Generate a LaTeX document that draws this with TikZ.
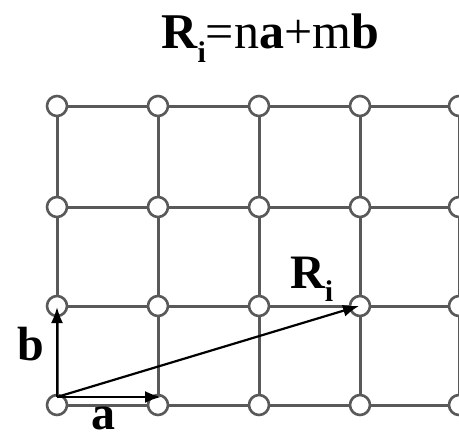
\documentclass[tikz,border=0pt]{standalone}
\usepackage{fontspec}
\setmainfont{Liberation Serif}
\usetikzlibrary{arrows.meta,backgrounds}
\tikzset{
  site/.style={circle,draw=gray!70!black,line width=2.6pt,fill=white,minimum size=20pt,inner sep=0pt},
  bond/.style={draw=gray!70!black,line width=3pt},
  vec/.style={draw=black,line width=2.2pt,-{Latex[length=16pt,width=12pt]}},
  lbl/.style={inner sep=0pt,font=\fontsize{48}{52}\selectfont\bfseries}
}
\newcommand{\subi}{\raisebox{-0.28em}{\fontsize{30}{32}\selectfont\bfseries i}}
\begin{document}
\begin{tikzpicture}[x=1pt,y=-1pt]
\useasboundingbox (0,0) rectangle (459,440);
\foreach \c/\x in {1/57,2/158,3/259,4/360,5/459}{
  \foreach \r/\y in {1/106,2/207,3/306,4/405}{
    \node[site] (n\c\r) at (\x,\y) {};
  }
}
\begin{scope}[on background layer]
\foreach \c in {1,...,5}{
  \draw[bond] (n\c1) -- (n\c2);
  \draw[bond] (n\c2) -- (n\c3);
  \draw[bond] (n\c3) -- (n\c4);
}
\foreach \r in {1,...,4}{
  \draw[bond] (n1\r) -- (n2\r);
  \draw[bond] (n2\r) -- (n3\r);
  \draw[bond] (n3\r) -- (n4\r);
  \draw[bond] (n4\r) -- (n5\r);
}
\end{scope}
\coordinate (O) at (57,397);
\coordinate (A) at (161,397);
\coordinate (B) at (57,307);
\coordinate (R) at (359,306);
\draw[vec] (O) -- (A);
\draw[vec] (O) -- (B);
\draw[vec] (O) -- (R);
\node[lbl,anchor=base] (la) at (104,429) {a};
\node[lbl,anchor=base] (lb) at (31,360) {b};
\node[lbl,anchor=base west] (lr) at (290,288) {R\subi};
\node[inner sep=0pt,anchor=base] (title) at (270,48) {\fontsize{50}{54}\selectfont\textbf{R}\subi=n\textbf{a}+m\textbf{b}};
\end{tikzpicture}
\end{document}
